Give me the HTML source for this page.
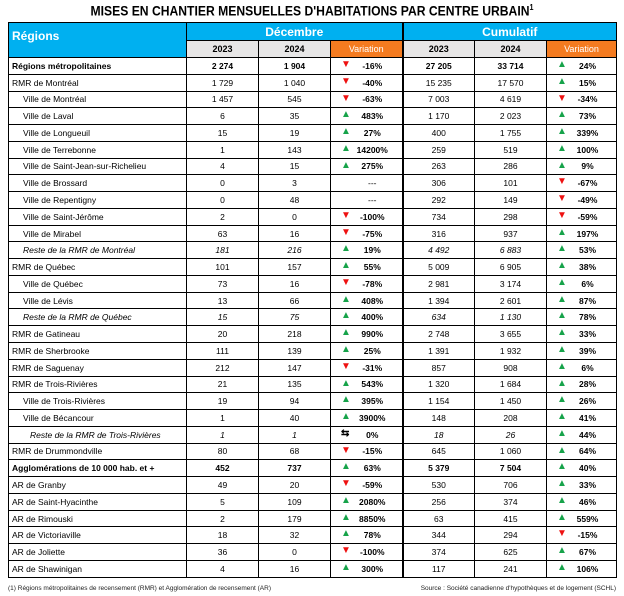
<!DOCTYPE html>
<html><head><meta charset="utf-8">
<style>
body{margin:0;width:624px;height:596px;background:#fff;font-family:"Liberation Sans Narrow","Liberation Sans",sans-serif;overflow:hidden;position:relative}
#title{position:absolute;left:0;top:3px;width:624px;text-align:center;font-weight:bold;font-size:13.5px;color:#000;transform:scaleX(0.9);transform-origin:center}
#title sup{font-size:8px}
table{position:absolute;left:8px;top:22px;border-collapse:collapse;table-layout:fixed;font-size:8.5px}
td{border:1px solid #000;padding:0;height:15.77px;text-align:center;white-space:nowrap;overflow:hidden}
td.r{text-align:left;padding-left:3px}
td.ind{padding-left:14px}
td.ind2{padding-left:21px}
.hb{background:#00b0f0;color:#fff;font-weight:bold;font-size:12px}
.hy{background:#e7e6e6;font-weight:bold;font-size:9px;height:16px}
.ho{background:#f47b20;color:#fff;font-size:9px}
.sep{border-left:2px solid #000}
.v{font-weight:bold;position:relative}
.v .a{position:absolute;left:10px;top:1px;font-size:10px}
.v .p{display:inline-block;width:56px;text-align:center;padding-left:12px}
.up{color:#16a34a}.dn{color:#e11}
.b{font-weight:bold}.it{font-style:italic}
#foot1{position:absolute;left:8px;top:585px;font-size:6.5px;color:#222}
#foot2{position:absolute;right:8px;top:585px;font-size:6.5px;color:#222}
</style></head><body>
<div id="title">MISES EN CHANTIER MENSUELLES D'HABITATIONS PAR CENTRE URBAIN<sup>1</sup></div>
<table id="t">
<colgroup><col style="width:178px"><col style="width:72px"><col style="width:72px"><col style="width:72px"><col style="width:72px"><col style="width:72px"><col style="width:70px"></colgroup>
<tr><td class="hb r" rowspan="2" style="vertical-align:top;padding-top:6px;font-size:12px">Régions</td><td class="hb" colspan="3" style="height:17px">Décembre</td><td class="hb sep" colspan="3">Cumulatif</td></tr>
<tr><td class="hy">2023</td><td class="hy">2024</td><td class="ho">Variation</td><td class="hy sep">2023</td><td class="hy">2024</td><td class="ho">Variation</td></tr>
</table>
<div id="foot1">(1) Régions métropolitaines de recensement (RMR) et Agglomération de recensement (AR)</div>
<div id="foot2">Source : Société canadienne d'hypothèques et de logement (SCHL)</div>
<script>
const regions=["Régions métropolitaines","RMR de Montréal","Ville de Montréal","Ville de Laval","Ville de Longueuil","Ville de Terrebonne","Ville de Saint-Jean-sur-Richelieu","Ville de Brossard","Ville de Repentigny","Ville de Saint-Jérôme","Ville de Mirabel","Reste de la RMR de Montréal","RMR de Québec","Ville de Québec","Ville de Lévis","Reste de la RMR de Québec","RMR de Gatineau","RMR de Sherbrooke","RMR de Saguenay","RMR de Trois-Rivières","Ville de Trois-Rivières","Ville de Bécancour","Reste de la RMR de Trois-Rivières","RMR de Drummondville","Agglomérations de 10 000 hab. et +","AR de Granby","AR de Saint-Hyacinthe","AR de Rimouski","AR de Victoriaville","AR de Joliette","AR de Shawinigan"];
const styles=["b","","ind","ind","ind","ind","ind","ind","ind","ind","ind","ind it","","ind","ind","ind it","","","","","ind","ind","ind2 it","","b","","","","","",""];
const dec2023=["2 274","1 729","1 457","6","15","1","4","0","0","2","63","181","101","73","13","15","20","111","212","21","19","1","1","80","452","49","5","2","18","36","4"];
const dec2024=["1 904","1 040","545","35","19","143","15","3","48","0","16","216","157","16","66","75","218","139","147","135","94","40","1","68","737","20","109","179","32","0","16"];
const decVar=["-16%","-40%","-63%","483%","27%","14200%","275%","---","---","-100%","-75%","19%","55%","-78%","408%","400%","990%","25%","-31%","543%","395%","3900%","0%","-15%","63%","-59%","2080%","8850%","78%","-100%","300%"];
const cum2023=["27 205","15 235","7 003","1 170","400","259","263","306","292","734","316","4 492","5 009","2 981","1 394","634","2 748","1 391","857","1 320","1 154","148","18","645","5 379","530","256","63","344","374","117"];
const cum2024=["33 714","17 570","4 619","2 023","1 755","519","286","101","149","298","937","6 883","6 905","3 174","2 601","1 130","3 655","1 932","908","1 684","1 450","208","26","1 060","7 504","706","374","415","294","625","241"];
const cumVar=["24%","15%","-34%","73%","339%","100%","9%","-67%","-49%","-59%","197%","53%","38%","6%","87%","78%","33%","39%","6%","28%","26%","41%","44%","64%","40%","33%","46%","559%","-15%","67%","106%"];
const t=document.getElementById('t');
function varCell(v){
  const td=document.createElement('td');td.className='v';
  if(v==='---'){td.innerHTML='<span class="p" style="font-weight:normal">---</span>';return td;}
  let a,c;
  if(v==='0%'){a='⇆';c='';}else if(v[0]==='-'){a='▼';c='dn';}else{a='▲';c='up';}
  td.innerHTML='<span class="a '+c+'">'+a+'</span><span class="p">'+v+'</span>';
  return td;
}
regions.forEach((r,i)=>{
  const tr=document.createElement('tr');
  
  
  const parts=styles[i].split(' ');
  const cls=(parts.includes('b')?' b':'')+(parts.includes('it')?' it':'');
  const c0=document.createElement('td');c0.className='r '+styles[i];c0.textContent=r;tr.appendChild(c0);
  [dec2023[i],dec2024[i]].forEach(v=>{const c=document.createElement('td');c.className=cls;c.textContent=v;tr.appendChild(c);});
  tr.appendChild(varCell(decVar[i]));
  [cum2023[i],cum2024[i]].forEach((v,k)=>{const c=document.createElement('td');c.className=cls+(k===0?' sep':'');c.textContent=v;tr.appendChild(c);});
  tr.appendChild(varCell(cumVar[i]));
  t.appendChild(tr);
});
</script>
</body></html>
